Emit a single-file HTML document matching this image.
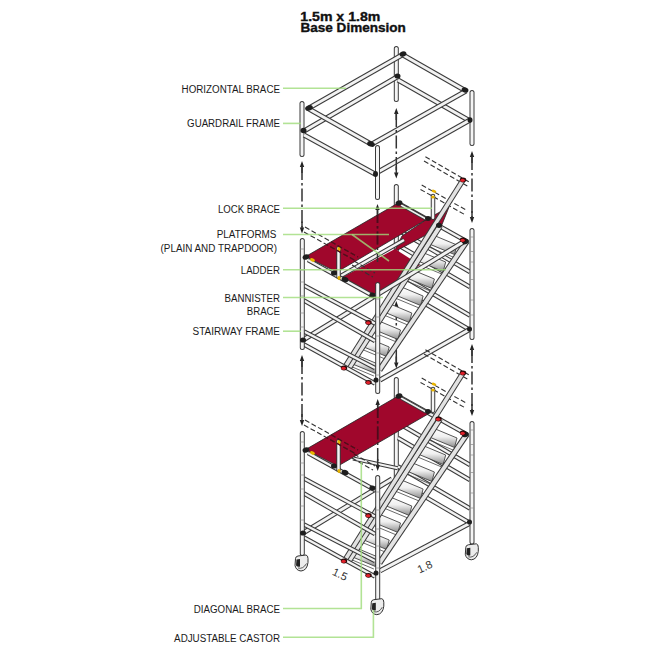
<!DOCTYPE html>
<html><head><meta charset="utf-8"><style>html,body{margin:0;padding:0;background:#fff;}svg{display:block}</style></head>
<body><svg width="650" height="650" viewBox="0 0 650 650">
<defs><clipPath id="pl2"><polygon points="305.5,256.6 399,202.5 428,218.5 337,272"/></clipPath><clipPath id="pl3"><polygon points="305.5,449.6 399,395.5 429,413.5 338,466"/></clipPath><linearGradient id="tread" x1="0" y1="0" x2="0" y2="1"><stop offset="0" stop-color="#ffffff"/><stop offset="0.45" stop-color="#f0f0f0"/><stop offset="1" stop-color="#8c8c8c"/></linearGradient></defs>
<rect width="650" height="650" fill="#fff"/>
<text x="181.6" y="92.6" textLength="98.4" lengthAdjust="spacingAndGlyphs" font-family="Liberation Sans" font-size="10" fill="#1a1a1a">HORIZONTAL BRACE</text>
<text x="187.1" y="126.8" textLength="92.9" lengthAdjust="spacingAndGlyphs" font-family="Liberation Sans" font-size="10" fill="#1a1a1a">GUARDRAIL FRAME</text>
<text x="218.0" y="212.8" textLength="62" lengthAdjust="spacingAndGlyphs" font-family="Liberation Sans" font-size="10" fill="#1a1a1a">LOCK BRACE</text>
<text x="216.7" y="238.4" textLength="59.8" lengthAdjust="spacingAndGlyphs" font-family="Liberation Sans" font-size="10" fill="#1a1a1a">PLATFORMS</text>
<text x="160.6" y="252.2" textLength="116.4" lengthAdjust="spacingAndGlyphs" font-family="Liberation Sans" font-size="10" fill="#1a1a1a">(PLAIN AND TRAPDOOR)</text>
<text x="240.8" y="274.2" textLength="39.2" lengthAdjust="spacingAndGlyphs" font-family="Liberation Sans" font-size="10" fill="#1a1a1a">LADDER</text>
<text x="224.5" y="302.2" textLength="55.5" lengthAdjust="spacingAndGlyphs" font-family="Liberation Sans" font-size="10" fill="#1a1a1a">BANNISTER</text>
<text x="246.8" y="315.2" textLength="33.2" lengthAdjust="spacingAndGlyphs" font-family="Liberation Sans" font-size="10" fill="#1a1a1a">BRACE</text>
<text x="192.6" y="335.2" textLength="87.4" lengthAdjust="spacingAndGlyphs" font-family="Liberation Sans" font-size="10" fill="#1a1a1a">STAIRWAY FRAME</text>
<text x="193.8" y="612.7" textLength="86.2" lengthAdjust="spacingAndGlyphs" font-family="Liberation Sans" font-size="10" fill="#1a1a1a">DIAGONAL BRACE</text>
<text x="174.1" y="641.5" textLength="105.9" lengthAdjust="spacingAndGlyphs" font-family="Liberation Sans" font-size="10" fill="#1a1a1a">ADJUSTABLE CASTOR</text>
<text x="300.3" y="20.5" textLength="80" lengthAdjust="spacingAndGlyphs" font-family="Liberation Sans" font-weight="bold" font-size="12.3" fill="#111" stroke="#111" stroke-width="0.35">1.5m x 1.8m</text>
<text x="300.5" y="32.3" textLength="105.3" lengthAdjust="spacingAndGlyphs" font-family="Liberation Sans" font-weight="bold" font-size="12.3" fill="#111" stroke="#111" stroke-width="0.35">Base Dimension</text>
<rect x="393.80" y="46.0" width="5" height="56.0" rx="2.5" fill="#3a3a3a"/>
<rect x="394.80" y="47.0" width="3" height="54.0" rx="1.5" fill="#f4f4f4"/>
<line x1="304.0" y1="131.0" x2="397.0" y2="77.0" stroke="#3a3a3a" stroke-width="5" stroke-linecap="butt"/>
<line x1="304.0" y1="131.0" x2="397.0" y2="77.0" stroke="#f2f2f2" stroke-width="3" stroke-linecap="butt"/>
<line x1="398.0" y1="80.0" x2="470.0" y2="121.0" stroke="#3a3a3a" stroke-width="5" stroke-linecap="butt"/>
<line x1="398.0" y1="80.0" x2="470.0" y2="121.0" stroke="#f2f2f2" stroke-width="3" stroke-linecap="butt"/>
<line x1="309.0" y1="108.0" x2="402.0" y2="55.0" stroke="#3a3a3a" stroke-width="5" stroke-linecap="butt"/>
<line x1="309.0" y1="108.0" x2="402.0" y2="55.0" stroke="#f2f2f2" stroke-width="3" stroke-linecap="butt"/>
<line x1="403.0" y1="55.0" x2="466.0" y2="91.0" stroke="#3a3a3a" stroke-width="5" stroke-linecap="butt"/>
<line x1="403.0" y1="55.0" x2="466.0" y2="91.0" stroke="#f2f2f2" stroke-width="3" stroke-linecap="butt"/>
<rect x="299.50" y="101.0" width="5" height="56.0" rx="2.5" fill="#3a3a3a"/>
<rect x="300.50" y="102.0" width="3" height="54.0" rx="1.5" fill="#f4f4f4"/>
<rect x="469.50" y="90.0" width="5" height="56.0" rx="2.5" fill="#3a3a3a"/>
<rect x="470.50" y="91.0" width="3" height="54.0" rx="1.5" fill="#f4f4f4"/>
<line x1="304.0" y1="135.0" x2="375.0" y2="174.0" stroke="#3a3a3a" stroke-width="5" stroke-linecap="butt"/>
<line x1="304.0" y1="135.0" x2="375.0" y2="174.0" stroke="#f2f2f2" stroke-width="3" stroke-linecap="butt"/>
<line x1="378.0" y1="172.0" x2="470.0" y2="120.0" stroke="#3a3a3a" stroke-width="5" stroke-linecap="butt"/>
<line x1="378.0" y1="172.0" x2="470.0" y2="120.0" stroke="#f2f2f2" stroke-width="3" stroke-linecap="butt"/>
<line x1="309.0" y1="109.0" x2="371.0" y2="144.0" stroke="#3a3a3a" stroke-width="5" stroke-linecap="butt"/>
<line x1="309.0" y1="109.0" x2="371.0" y2="144.0" stroke="#f2f2f2" stroke-width="3" stroke-linecap="butt"/>
<line x1="372.0" y1="144.0" x2="466.0" y2="91.0" stroke="#3a3a3a" stroke-width="5" stroke-linecap="butt"/>
<line x1="372.0" y1="144.0" x2="466.0" y2="91.0" stroke="#f2f2f2" stroke-width="3" stroke-linecap="butt"/>
<rect x="375.00" y="145.0" width="5" height="55.0" rx="2.5" fill="#3a3a3a"/>
<rect x="376.00" y="146.0" width="3" height="53.0" rx="1.5" fill="#f4f4f4"/>
<ellipse cx="309.0" cy="108.0" rx="4" ry="2.6" transform="rotate(-20 309.0 108.0)" fill="#1e1e1e"/>
<ellipse cx="303.5" cy="130.5" rx="3" ry="2.8" transform="rotate(0 303.5 130.5)" fill="#1e1e1e"/>
<ellipse cx="403.0" cy="54.0" rx="3.5" ry="2.6" transform="rotate(-20 403.0 54.0)" fill="#1e1e1e"/>
<ellipse cx="397.5" cy="76.0" rx="3" ry="2.6" transform="rotate(0 397.5 76.0)" fill="#1e1e1e"/>
<ellipse cx="371.0" cy="144.0" rx="4" ry="2.6" transform="rotate(20 371.0 144.0)" fill="#1e1e1e"/>
<ellipse cx="375.5" cy="174.0" rx="2.5" ry="3" transform="rotate(0 375.5 174.0)" fill="#1e1e1e"/>
<ellipse cx="465.0" cy="90.0" rx="3.5" ry="2.6" transform="rotate(20 465.0 90.0)" fill="#1e1e1e"/>
<ellipse cx="470.0" cy="120.0" rx="2.5" ry="2.8" transform="rotate(0 470.0 120.0)" fill="#1e1e1e"/>
<path d="M396.3 301 L394.1 307 L398.5 307 Z" fill="#222"/>
<path d="M396.3 368.5 L394.1 362.5 L398.5 362.5 Z" fill="#222"/>
<line x1="396.3" y1="307" x2="396.3" y2="362.5" stroke="#333" stroke-width="1.5" stroke-dasharray="13 3 2.5 3"/>
<line x1="396.3" y1="306" x2="396.3" y2="313" stroke="#333" stroke-width="1.5"/>
<line x1="396.3" y1="356.5" x2="396.3" y2="363.5" stroke="#333" stroke-width="1.5"/>
<rect x="393.80" y="184.0" width="5" height="113.0" rx="2.5" fill="#3a3a3a"/>
<rect x="394.80" y="185.0" width="3" height="111.0" rx="1.5" fill="#f4f4f4"/>
<line x1="398.0" y1="230.0" x2="470.0" y2="272.0" stroke="#3a3a3a" stroke-width="4.5" stroke-linecap="butt"/>
<line x1="398.0" y1="230.0" x2="470.0" y2="272.0" stroke="#f2f2f2" stroke-width="2.5" stroke-linecap="butt"/>
<line x1="398.0" y1="245.0" x2="470.0" y2="287.0" stroke="#3a3a3a" stroke-width="4.5" stroke-linecap="butt"/>
<line x1="398.0" y1="245.0" x2="470.0" y2="287.0" stroke="#f2f2f2" stroke-width="2.5" stroke-linecap="butt"/>
<line x1="398.0" y1="273.5" x2="470.0" y2="315.5" stroke="#3a3a3a" stroke-width="4.5" stroke-linecap="butt"/>
<line x1="398.0" y1="273.5" x2="470.0" y2="315.5" stroke="#f2f2f2" stroke-width="2.5" stroke-linecap="butt"/>
<line x1="398.0" y1="288.0" x2="470.0" y2="330.0" stroke="#3a3a3a" stroke-width="4.5" stroke-linecap="butt"/>
<line x1="398.0" y1="288.0" x2="470.0" y2="330.0" stroke="#f2f2f2" stroke-width="2.5" stroke-linecap="butt"/>
<line x1="398.0" y1="203.0" x2="466.0" y2="241.0" stroke="#3a3a3a" stroke-width="4.5" stroke-linecap="butt"/>
<line x1="398.0" y1="203.0" x2="466.0" y2="241.0" stroke="#f2f2f2" stroke-width="2.5" stroke-linecap="butt"/>
<line x1="380.0" y1="380.0" x2="469.5" y2="329.5" stroke="#3a3a3a" stroke-width="5" stroke-linecap="butt"/>
<line x1="380.0" y1="380.0" x2="469.5" y2="329.5" stroke="#f2f2f2" stroke-width="3" stroke-linecap="butt"/>
<rect x="469.50" y="228.0" width="5" height="112.0" rx="2.5" fill="#3a3a3a"/>
<rect x="470.50" y="229.0" width="3" height="110.0" rx="1.5" fill="#f4f4f4"/>
<line x1="470.0" y1="237.0" x2="474.0" y2="237.0" stroke="#8a8a8a" stroke-width="0.7"/>
<line x1="470.0" y1="251.5" x2="474.0" y2="251.5" stroke="#8a8a8a" stroke-width="0.7"/>
<line x1="470.0" y1="262.0" x2="474.0" y2="262.0" stroke="#8a8a8a" stroke-width="0.7"/>
<line x1="470.0" y1="279.5" x2="474.0" y2="279.5" stroke="#8a8a8a" stroke-width="0.7"/>
<line x1="470.0" y1="300.0" x2="474.0" y2="300.0" stroke="#8a8a8a" stroke-width="0.7"/>
<line x1="470.0" y1="315.0" x2="474.0" y2="315.0" stroke="#8a8a8a" stroke-width="0.7"/>
<polygon points="305.5,256.6 399.0,202.5 428.0,218.5 337.0,272.0" fill="#a0072c" stroke="#222" stroke-width="0.8"/>
<polygon points="402.0,236.0 428.0,218.5 449.0,207.0 441.0,227.0 394.0,252.0" fill="#a0072c" stroke="#222" stroke-width="0.8"/>
<polygon points="339.0,279.0 395.0,249.0 420.0,265.0 375.0,295.0" fill="#a0072c" stroke="none" stroke-width="0"/>
<line x1="339.0" y1="277.0" x2="404.0" y2="240.0" stroke="#3a3a3a" stroke-width="4.5" stroke-linecap="butt"/>
<line x1="339.0" y1="277.0" x2="404.0" y2="240.0" stroke="#f2f2f2" stroke-width="2.5" stroke-linecap="butt"/>
<line x1="401.0" y1="205.0" x2="426.0" y2="219.0" stroke="#3a3a3a" stroke-width="3.5" stroke-linecap="butt"/>
<line x1="401.0" y1="205.0" x2="426.0" y2="219.0" stroke="#f2f2f2" stroke-width="1.5" stroke-linecap="butt"/>
<line x1="425.4" y1="156.8" x2="470.3" y2="182.6" stroke="#333" stroke-width="1.1" stroke-dasharray="5 2.5"/>
<line x1="424.0" y1="161.0" x2="467.8" y2="186.3" stroke="#333" stroke-width="1.1" stroke-dasharray="5 2.5"/>
<line x1="421.7" y1="185.0" x2="466.6" y2="210.3" stroke="#333" stroke-width="1.1" stroke-dasharray="5 2.5"/>
<line x1="420.5" y1="189.4" x2="464.8" y2="214.6" stroke="#333" stroke-width="1.1" stroke-dasharray="5 2.5"/>
<polygon points="433.0,235.0 457.0,245.0 454.5,254.5 430.5,244.5" fill="url(#tread)" stroke="#444" stroke-width="0.9"/>
<line x1="429.0" y1="247.0" x2="453.0" y2="257.0" stroke="#444" stroke-width="0.8"/>
<polygon points="421.7,252.0 445.7,262.0 443.2,271.5 419.2,261.5" fill="url(#tread)" stroke="#444" stroke-width="0.9"/>
<line x1="417.7" y1="264.0" x2="441.7" y2="274.0" stroke="#444" stroke-width="0.8"/>
<polygon points="410.4,269.0 434.4,279.0 431.9,288.5 407.9,278.5" fill="url(#tread)" stroke="#444" stroke-width="0.9"/>
<line x1="406.4" y1="281.0" x2="430.4" y2="291.0" stroke="#444" stroke-width="0.8"/>
<polygon points="399.1,286.0 423.1,296.0 420.6,305.5 396.6,295.5" fill="url(#tread)" stroke="#444" stroke-width="0.9"/>
<line x1="395.1" y1="298.0" x2="419.1" y2="308.0" stroke="#444" stroke-width="0.8"/>
<polygon points="387.8,303.0 411.8,313.0 409.3,322.5 385.3,312.5" fill="url(#tread)" stroke="#444" stroke-width="0.9"/>
<line x1="383.8" y1="315.0" x2="407.8" y2="325.0" stroke="#444" stroke-width="0.8"/>
<polygon points="376.5,320.0 400.5,330.0 398.0,339.5 374.0,329.5" fill="url(#tread)" stroke="#444" stroke-width="0.9"/>
<line x1="372.5" y1="332.0" x2="396.5" y2="342.0" stroke="#444" stroke-width="0.8"/>
<polygon points="365.2,337.0 389.2,347.0 386.7,356.5 362.7,346.5" fill="url(#tread)" stroke="#444" stroke-width="0.9"/>
<line x1="361.2" y1="349.0" x2="385.2" y2="359.0" stroke="#444" stroke-width="0.8"/>
<polygon points="353.9,354.0 377.9,364.0 375.4,373.5 351.4,363.5" fill="url(#tread)" stroke="#444" stroke-width="0.9"/>
<line x1="349.9" y1="366.0" x2="373.9" y2="376.0" stroke="#444" stroke-width="0.8"/>
<line x1="467.0" y1="241.0" x2="379.5" y2="370.0" stroke="#3a3a3a" stroke-width="6" stroke-linecap="butt"/>
<line x1="467.0" y1="241.0" x2="379.5" y2="370.0" stroke="#e4e4e4" stroke-width="4" stroke-linecap="butt"/>
<line x1="440.0" y1="226.0" x2="349.0" y2="368.0" stroke="#3a3a3a" stroke-width="6" stroke-linecap="butt"/>
<line x1="440.0" y1="226.0" x2="349.0" y2="368.0" stroke="#e4e4e4" stroke-width="4" stroke-linecap="butt"/>
<line x1="463.0" y1="180.0" x2="345.0" y2="367.0" stroke="#3a3a3a" stroke-width="5.5" stroke-linecap="butt"/>
<line x1="463.0" y1="180.0" x2="345.0" y2="367.0" stroke="#e2e2e2" stroke-width="3.5" stroke-linecap="butt"/>
<line x1="303.0" y1="340.0" x2="465.0" y2="241.0" stroke="#3a3a3a" stroke-width="5" stroke-linecap="butt"/>
<line x1="303.0" y1="340.0" x2="465.0" y2="241.0" stroke="#f2f2f2" stroke-width="3" stroke-linecap="butt"/>
<line x1="304.0" y1="285.5" x2="375.0" y2="323.5" stroke="#3a3a3a" stroke-width="4.5" stroke-linecap="butt"/>
<line x1="304.0" y1="285.5" x2="375.0" y2="323.5" stroke="#f2f2f2" stroke-width="2.5" stroke-linecap="butt"/>
<line x1="304.0" y1="300.5" x2="375.0" y2="341.0" stroke="#3a3a3a" stroke-width="4.5" stroke-linecap="butt"/>
<line x1="304.0" y1="300.5" x2="375.0" y2="341.0" stroke="#f2f2f2" stroke-width="2.5" stroke-linecap="butt"/>
<line x1="304.0" y1="331.5" x2="375.0" y2="368.0" stroke="#3a3a3a" stroke-width="4.5" stroke-linecap="butt"/>
<line x1="304.0" y1="331.5" x2="375.0" y2="368.0" stroke="#f2f2f2" stroke-width="2.5" stroke-linecap="butt"/>
<line x1="304.0" y1="344.5" x2="375.0" y2="383.5" stroke="#3a3a3a" stroke-width="4.5" stroke-linecap="butt"/>
<line x1="304.0" y1="344.5" x2="375.0" y2="383.5" stroke="#f2f2f2" stroke-width="2.5" stroke-linecap="butt"/>
<line x1="308.0" y1="260.0" x2="375.0" y2="297.0" stroke="#3a3a3a" stroke-width="4.5" stroke-linecap="butt"/>
<line x1="308.0" y1="260.0" x2="375.0" y2="297.0" stroke="#f2f2f2" stroke-width="2.5" stroke-linecap="butt"/>
<rect x="299.80" y="238.0" width="5" height="112.0" rx="2.5" fill="#3a3a3a"/>
<rect x="300.80" y="239.0" width="3" height="110.0" rx="1.5" fill="#f4f4f4"/>
<rect x="375.20" y="282.0" width="5" height="112.0" rx="2.5" fill="#3a3a3a"/>
<rect x="376.20" y="283.0" width="3" height="110.0" rx="1.5" fill="#f4f4f4"/>
<line x1="300.3" y1="249.0" x2="304.3" y2="249.0" stroke="#8a8a8a" stroke-width="0.7"/>
<line x1="300.3" y1="270.0" x2="304.3" y2="270.0" stroke="#8a8a8a" stroke-width="0.7"/>
<line x1="300.3" y1="282.0" x2="304.3" y2="282.0" stroke="#8a8a8a" stroke-width="0.7"/>
<line x1="300.3" y1="296.0" x2="304.3" y2="296.0" stroke="#8a8a8a" stroke-width="0.7"/>
<line x1="300.3" y1="313.0" x2="304.3" y2="313.0" stroke="#8a8a8a" stroke-width="0.7"/>
<line x1="300.3" y1="327.0" x2="304.3" y2="327.0" stroke="#8a8a8a" stroke-width="0.7"/>
<line x1="375.7" y1="299.0" x2="379.7" y2="299.0" stroke="#8a8a8a" stroke-width="0.7"/>
<line x1="375.7" y1="317.0" x2="379.7" y2="317.0" stroke="#8a8a8a" stroke-width="0.7"/>
<line x1="375.7" y1="336.0" x2="379.7" y2="336.0" stroke="#8a8a8a" stroke-width="0.7"/>
<line x1="375.7" y1="353.0" x2="379.7" y2="353.0" stroke="#8a8a8a" stroke-width="0.7"/>
<line x1="375.7" y1="375.0" x2="379.7" y2="375.0" stroke="#8a8a8a" stroke-width="0.7"/>
<rect x="336.25" y="246.0" width="4.5" height="33.0" rx="2.25" fill="#3a3a3a"/>
<rect x="337.25" y="247.0" width="2.5" height="31.0" rx="1.25" fill="#f4f4f4"/>
<ellipse cx="339.0" cy="249.0" rx="1.6" ry="2.2" transform="rotate(0 339.0 249.0)" fill="#e8b400"/>
<ellipse cx="339.0" cy="278.0" rx="1.6" ry="2" transform="rotate(0 339.0 278.0)" fill="#e8b400"/>
<rect x="430.75" y="193.7" width="4.5" height="26.3" rx="2.25" fill="#3a3a3a"/>
<rect x="431.75" y="194.7" width="2.5" height="24.3" rx="1.25" fill="#f4f4f4"/>
<ellipse cx="433.0" cy="197.0" rx="1.8" ry="1.6" transform="rotate(0 433.0 197.0)" fill="#e8b400"/>
<ellipse cx="434.0" cy="191.2" rx="2.4" ry="1.4" transform="rotate(20 434.0 191.2)" fill="#e8b400"/>
<ellipse cx="306.0" cy="257.0" rx="3.5" ry="2.6" transform="rotate(-20 306.0 257.0)" fill="#1e1e1e"/>
<ellipse cx="312.5" cy="260.0" rx="2.6" ry="1.6" transform="rotate(25 312.5 260.0)" fill="#e8b400"/>
<ellipse cx="399.0" cy="203.0" rx="3.5" ry="2.6" transform="rotate(-20 399.0 203.0)" fill="#1e1e1e"/>
<ellipse cx="428.0" cy="218.5" rx="3" ry="2.5" transform="rotate(0 428.0 218.5)" fill="#1e1e1e"/>
<ellipse cx="334.0" cy="273.0" rx="3" ry="2.6" transform="rotate(0 334.0 273.0)" fill="#1e1e1e"/>
<ellipse cx="345.0" cy="279.5" rx="3.5" ry="2.6" transform="rotate(20 345.0 279.5)" fill="#1e1e1e"/>
<ellipse cx="372.3" cy="295.0" rx="3" ry="2.6" transform="rotate(0 372.3 295.0)" fill="#1e1e1e"/>
<ellipse cx="303.0" cy="340.0" rx="3" ry="2.6" transform="rotate(0 303.0 340.0)" fill="#1e1e1e"/>
<ellipse cx="465.5" cy="241.5" rx="3.5" ry="2.6" transform="rotate(-20 465.5 241.5)" fill="#1e1e1e"/>
<ellipse cx="469.5" cy="329.0" rx="2.5" ry="2.6" transform="rotate(0 469.5 329.0)" fill="#1e1e1e"/>
<ellipse cx="376.0" cy="380.0" rx="2.5" ry="2.6" transform="rotate(0 376.0 380.0)" fill="#1e1e1e"/>
<ellipse cx="463.0" cy="180.0" rx="3.2" ry="2.4" fill="#2a0a0a"/>
<ellipse cx="462.6" cy="180.3" rx="2.2" ry="1.6" fill="#e0202a"/>
<ellipse cx="368.5" cy="322.5" rx="3.2" ry="2.4" fill="#2a0a0a"/>
<ellipse cx="368.1" cy="322.8" rx="2.2" ry="1.6" fill="#e0202a"/>
<ellipse cx="368.5" cy="382.3" rx="3.2" ry="2.4" fill="#2a0a0a"/>
<ellipse cx="368.1" cy="382.6" rx="2.2" ry="1.6" fill="#e0202a"/>
<ellipse cx="344.0" cy="368.0" rx="3.2" ry="2.4" fill="#2a0a0a"/>
<ellipse cx="343.6" cy="368.3" rx="2.2" ry="1.6" fill="#e0202a"/>
<ellipse cx="439.0" cy="225.3" rx="3" ry="2.6" transform="rotate(0 439.0 225.3)" fill="#1e1e1e"/>
<ellipse cx="463.0" cy="240.0" rx="3.2" ry="2.4" fill="#2a0a0a"/>
<ellipse cx="462.6" cy="240.3" rx="2.2" ry="1.6" fill="#e0202a"/>
<line x1="305.0" y1="227.0" x2="358.0" y2="257.0" stroke="#333" stroke-width="1.1" stroke-dasharray="5 2.5"/>
<line x1="305.0" y1="227.0" x2="358.0" y2="257.0" stroke="#5a0818" stroke-width="1.2" stroke-dasharray="5 2.5" clip-path="url(#pl2)"/>
<line x1="304.0" y1="232.0" x2="356.0" y2="261.0" stroke="#333" stroke-width="1.1" stroke-dasharray="5 2.5"/>
<line x1="304.0" y1="232.0" x2="356.0" y2="261.0" stroke="#5a0818" stroke-width="1.2" stroke-dasharray="5 2.5" clip-path="url(#pl2)"/>
<line x1="354.0" y1="261.0" x2="375.0" y2="273.0" stroke="#333" stroke-width="1.1" stroke-dasharray="5 2.5"/>
<line x1="354.0" y1="261.0" x2="375.0" y2="273.0" stroke="#5a0818" stroke-width="1.2" stroke-dasharray="5 2.5" clip-path="url(#pl2)"/>
<line x1="352.0" y1="265.0" x2="373.0" y2="277.0" stroke="#333" stroke-width="1.1" stroke-dasharray="5 2.5"/>
<line x1="352.0" y1="265.0" x2="373.0" y2="277.0" stroke="#5a0818" stroke-width="1.2" stroke-dasharray="5 2.5" clip-path="url(#pl2)"/>
<rect x="393.80" y="377.0" width="5" height="113.0" rx="2.5" fill="#3a3a3a"/>
<rect x="394.80" y="378.0" width="3" height="111.0" rx="1.5" fill="#f4f4f4"/>
<line x1="398.0" y1="423.0" x2="470.0" y2="465.0" stroke="#3a3a3a" stroke-width="4.5" stroke-linecap="butt"/>
<line x1="398.0" y1="423.0" x2="470.0" y2="465.0" stroke="#f2f2f2" stroke-width="2.5" stroke-linecap="butt"/>
<line x1="398.0" y1="438.0" x2="470.0" y2="480.0" stroke="#3a3a3a" stroke-width="4.5" stroke-linecap="butt"/>
<line x1="398.0" y1="438.0" x2="470.0" y2="480.0" stroke="#f2f2f2" stroke-width="2.5" stroke-linecap="butt"/>
<line x1="398.0" y1="466.5" x2="470.0" y2="508.5" stroke="#3a3a3a" stroke-width="4.5" stroke-linecap="butt"/>
<line x1="398.0" y1="466.5" x2="470.0" y2="508.5" stroke="#f2f2f2" stroke-width="2.5" stroke-linecap="butt"/>
<line x1="398.0" y1="481.0" x2="470.0" y2="523.0" stroke="#3a3a3a" stroke-width="4.5" stroke-linecap="butt"/>
<line x1="398.0" y1="481.0" x2="470.0" y2="523.0" stroke="#f2f2f2" stroke-width="2.5" stroke-linecap="butt"/>
<line x1="398.0" y1="396.0" x2="466.0" y2="434.0" stroke="#3a3a3a" stroke-width="4.5" stroke-linecap="butt"/>
<line x1="398.0" y1="396.0" x2="466.0" y2="434.0" stroke="#f2f2f2" stroke-width="2.5" stroke-linecap="butt"/>
<line x1="380.0" y1="570.8" x2="469.5" y2="523.5" stroke="#3a3a3a" stroke-width="5" stroke-linecap="butt"/>
<line x1="380.0" y1="570.8" x2="469.5" y2="523.5" stroke="#f2f2f2" stroke-width="3" stroke-linecap="butt"/>
<rect x="469.50" y="421.0" width="5" height="123.5" rx="2.5" fill="#3a3a3a"/>
<rect x="470.50" y="422.0" width="3" height="121.5" rx="1.5" fill="#f4f4f4"/>
<line x1="470.0" y1="430.0" x2="474.0" y2="430.0" stroke="#8a8a8a" stroke-width="0.7"/>
<line x1="470.0" y1="444.5" x2="474.0" y2="444.5" stroke="#8a8a8a" stroke-width="0.7"/>
<line x1="470.0" y1="455.0" x2="474.0" y2="455.0" stroke="#8a8a8a" stroke-width="0.7"/>
<line x1="470.0" y1="472.5" x2="474.0" y2="472.5" stroke="#8a8a8a" stroke-width="0.7"/>
<line x1="470.0" y1="493.0" x2="474.0" y2="493.0" stroke="#8a8a8a" stroke-width="0.7"/>
<line x1="470.0" y1="508.0" x2="474.0" y2="508.0" stroke="#8a8a8a" stroke-width="0.7"/>
<polygon points="305.5,449.6 399.0,395.5 429.0,413.5 338.0,466.0" fill="#a0072c" stroke="#222" stroke-width="0.8"/>
<line x1="353.0" y1="458.5" x2="397.7" y2="468.3" stroke="#3a3a3a" stroke-width="4" stroke-linecap="butt"/>
<line x1="353.0" y1="458.5" x2="397.7" y2="468.3" stroke="#f2f2f2" stroke-width="2" stroke-linecap="butt"/>
<line x1="401.0" y1="398.0" x2="426.0" y2="412.0" stroke="#3a3a3a" stroke-width="3.5" stroke-linecap="butt"/>
<line x1="401.0" y1="398.0" x2="426.0" y2="412.0" stroke="#f2f2f2" stroke-width="1.5" stroke-linecap="butt"/>
<line x1="303.0" y1="533.0" x2="392.0" y2="479.0" stroke="#3a3a3a" stroke-width="5" stroke-linecap="butt"/>
<line x1="303.0" y1="533.0" x2="392.0" y2="479.0" stroke="#f2f2f2" stroke-width="3" stroke-linecap="butt"/>
<line x1="425.4" y1="349.8" x2="470.3" y2="375.6" stroke="#333" stroke-width="1.1" stroke-dasharray="5 2.5"/>
<line x1="424.0" y1="354.0" x2="467.8" y2="379.3" stroke="#333" stroke-width="1.1" stroke-dasharray="5 2.5"/>
<line x1="421.7" y1="378.0" x2="466.6" y2="403.3" stroke="#333" stroke-width="1.1" stroke-dasharray="5 2.5"/>
<line x1="420.5" y1="382.4" x2="464.8" y2="407.6" stroke="#333" stroke-width="1.1" stroke-dasharray="5 2.5"/>
<polygon points="433.0,428.0 457.0,438.0 454.5,447.5 430.5,437.5" fill="url(#tread)" stroke="#444" stroke-width="0.9"/>
<line x1="429.0" y1="440.0" x2="453.0" y2="450.0" stroke="#444" stroke-width="0.8"/>
<polygon points="421.7,445.0 445.7,455.0 443.2,464.5 419.2,454.5" fill="url(#tread)" stroke="#444" stroke-width="0.9"/>
<line x1="417.7" y1="457.0" x2="441.7" y2="467.0" stroke="#444" stroke-width="0.8"/>
<polygon points="410.4,462.0 434.4,472.0 431.9,481.5 407.9,471.5" fill="url(#tread)" stroke="#444" stroke-width="0.9"/>
<line x1="406.4" y1="474.0" x2="430.4" y2="484.0" stroke="#444" stroke-width="0.8"/>
<polygon points="399.1,479.0 423.1,489.0 420.6,498.5 396.6,488.5" fill="url(#tread)" stroke="#444" stroke-width="0.9"/>
<line x1="395.1" y1="491.0" x2="419.1" y2="501.0" stroke="#444" stroke-width="0.8"/>
<polygon points="387.8,496.0 411.8,506.0 409.3,515.5 385.3,505.5" fill="url(#tread)" stroke="#444" stroke-width="0.9"/>
<line x1="383.8" y1="508.0" x2="407.8" y2="518.0" stroke="#444" stroke-width="0.8"/>
<polygon points="376.5,513.0 400.5,523.0 398.0,532.5 374.0,522.5" fill="url(#tread)" stroke="#444" stroke-width="0.9"/>
<line x1="372.5" y1="525.0" x2="396.5" y2="535.0" stroke="#444" stroke-width="0.8"/>
<polygon points="365.2,530.0 389.2,540.0 386.7,549.5 362.7,539.5" fill="url(#tread)" stroke="#444" stroke-width="0.9"/>
<line x1="361.2" y1="542.0" x2="385.2" y2="552.0" stroke="#444" stroke-width="0.8"/>
<polygon points="353.9,547.0 377.9,557.0 375.4,566.5 351.4,556.5" fill="url(#tread)" stroke="#444" stroke-width="0.9"/>
<line x1="349.9" y1="559.0" x2="373.9" y2="569.0" stroke="#444" stroke-width="0.8"/>
<line x1="467.0" y1="434.0" x2="379.5" y2="563.0" stroke="#3a3a3a" stroke-width="6" stroke-linecap="butt"/>
<line x1="467.0" y1="434.0" x2="379.5" y2="563.0" stroke="#e4e4e4" stroke-width="4" stroke-linecap="butt"/>
<line x1="440.0" y1="419.0" x2="349.0" y2="561.0" stroke="#3a3a3a" stroke-width="6" stroke-linecap="butt"/>
<line x1="440.0" y1="419.0" x2="349.0" y2="561.0" stroke="#e4e4e4" stroke-width="4" stroke-linecap="butt"/>
<line x1="463.0" y1="373.0" x2="345.0" y2="560.0" stroke="#3a3a3a" stroke-width="5.5" stroke-linecap="butt"/>
<line x1="463.0" y1="373.0" x2="345.0" y2="560.0" stroke="#e2e2e2" stroke-width="3.5" stroke-linecap="butt"/>
<line x1="304.0" y1="478.5" x2="375.0" y2="516.5" stroke="#3a3a3a" stroke-width="4.5" stroke-linecap="butt"/>
<line x1="304.0" y1="478.5" x2="375.0" y2="516.5" stroke="#f2f2f2" stroke-width="2.5" stroke-linecap="butt"/>
<line x1="304.0" y1="493.5" x2="375.0" y2="534.0" stroke="#3a3a3a" stroke-width="4.5" stroke-linecap="butt"/>
<line x1="304.0" y1="493.5" x2="375.0" y2="534.0" stroke="#f2f2f2" stroke-width="2.5" stroke-linecap="butt"/>
<line x1="304.0" y1="524.5" x2="375.0" y2="561.0" stroke="#3a3a3a" stroke-width="4.5" stroke-linecap="butt"/>
<line x1="304.0" y1="524.5" x2="375.0" y2="561.0" stroke="#f2f2f2" stroke-width="2.5" stroke-linecap="butt"/>
<line x1="304.0" y1="537.5" x2="375.0" y2="576.5" stroke="#3a3a3a" stroke-width="4.5" stroke-linecap="butt"/>
<line x1="304.0" y1="537.5" x2="375.0" y2="576.5" stroke="#f2f2f2" stroke-width="2.5" stroke-linecap="butt"/>
<line x1="308.0" y1="453.0" x2="375.0" y2="490.0" stroke="#3a3a3a" stroke-width="4.5" stroke-linecap="butt"/>
<line x1="308.0" y1="453.0" x2="375.0" y2="490.0" stroke="#f2f2f2" stroke-width="2.5" stroke-linecap="butt"/>
<rect x="299.80" y="431.0" width="5" height="125.0" rx="2.5" fill="#3a3a3a"/>
<rect x="300.80" y="432.0" width="3" height="123.0" rx="1.5" fill="#f4f4f4"/>
<rect x="375.20" y="475.0" width="5" height="126.4" rx="2.5" fill="#3a3a3a"/>
<rect x="376.20" y="476.0" width="3" height="124.4" rx="1.5" fill="#f4f4f4"/>
<line x1="300.3" y1="442.0" x2="304.3" y2="442.0" stroke="#8a8a8a" stroke-width="0.7"/>
<line x1="300.3" y1="463.0" x2="304.3" y2="463.0" stroke="#8a8a8a" stroke-width="0.7"/>
<line x1="300.3" y1="475.0" x2="304.3" y2="475.0" stroke="#8a8a8a" stroke-width="0.7"/>
<line x1="300.3" y1="489.0" x2="304.3" y2="489.0" stroke="#8a8a8a" stroke-width="0.7"/>
<line x1="300.3" y1="506.0" x2="304.3" y2="506.0" stroke="#8a8a8a" stroke-width="0.7"/>
<line x1="300.3" y1="520.0" x2="304.3" y2="520.0" stroke="#8a8a8a" stroke-width="0.7"/>
<line x1="375.7" y1="492.0" x2="379.7" y2="492.0" stroke="#8a8a8a" stroke-width="0.7"/>
<line x1="375.7" y1="510.0" x2="379.7" y2="510.0" stroke="#8a8a8a" stroke-width="0.7"/>
<line x1="375.7" y1="529.0" x2="379.7" y2="529.0" stroke="#8a8a8a" stroke-width="0.7"/>
<line x1="375.7" y1="546.0" x2="379.7" y2="546.0" stroke="#8a8a8a" stroke-width="0.7"/>
<line x1="375.7" y1="568.0" x2="379.7" y2="568.0" stroke="#8a8a8a" stroke-width="0.7"/>
<rect x="336.25" y="439.0" width="4.5" height="33.0" rx="2.25" fill="#3a3a3a"/>
<rect x="337.25" y="440.0" width="2.5" height="31.0" rx="1.25" fill="#f4f4f4"/>
<ellipse cx="339.0" cy="442.0" rx="1.6" ry="2.2" transform="rotate(0 339.0 442.0)" fill="#e8b400"/>
<ellipse cx="339.0" cy="471.0" rx="1.6" ry="2" transform="rotate(0 339.0 471.0)" fill="#e8b400"/>
<rect x="430.75" y="386.7" width="4.5" height="26.3" rx="2.25" fill="#3a3a3a"/>
<rect x="431.75" y="387.7" width="2.5" height="24.3" rx="1.25" fill="#f4f4f4"/>
<ellipse cx="433.0" cy="390.0" rx="1.8" ry="1.6" transform="rotate(0 433.0 390.0)" fill="#e8b400"/>
<ellipse cx="434.0" cy="384.2" rx="2.4" ry="1.4" transform="rotate(20 434.0 384.2)" fill="#e8b400"/>
<ellipse cx="306.0" cy="450.0" rx="3.5" ry="2.6" transform="rotate(-20 306.0 450.0)" fill="#1e1e1e"/>
<ellipse cx="312.5" cy="453.0" rx="2.6" ry="1.6" transform="rotate(25 312.5 453.0)" fill="#e8b400"/>
<ellipse cx="399.0" cy="396.0" rx="3.5" ry="2.6" transform="rotate(-20 399.0 396.0)" fill="#1e1e1e"/>
<ellipse cx="428.0" cy="411.5" rx="3" ry="2.5" transform="rotate(0 428.0 411.5)" fill="#1e1e1e"/>
<ellipse cx="334.0" cy="466.0" rx="3" ry="2.6" transform="rotate(0 334.0 466.0)" fill="#1e1e1e"/>
<ellipse cx="345.0" cy="472.5" rx="3.5" ry="2.6" transform="rotate(20 345.0 472.5)" fill="#1e1e1e"/>
<ellipse cx="372.3" cy="488.0" rx="3" ry="2.6" transform="rotate(0 372.3 488.0)" fill="#1e1e1e"/>
<ellipse cx="303.0" cy="533.0" rx="3" ry="2.6" transform="rotate(0 303.0 533.0)" fill="#1e1e1e"/>
<ellipse cx="465.5" cy="434.5" rx="3.5" ry="2.6" transform="rotate(-20 465.5 434.5)" fill="#1e1e1e"/>
<ellipse cx="469.5" cy="522.0" rx="2.5" ry="2.6" transform="rotate(0 469.5 522.0)" fill="#1e1e1e"/>
<ellipse cx="376.0" cy="573.0" rx="2.5" ry="2.6" transform="rotate(0 376.0 573.0)" fill="#1e1e1e"/>
<ellipse cx="463.0" cy="373.0" rx="3.2" ry="2.4" fill="#2a0a0a"/>
<ellipse cx="462.6" cy="373.3" rx="2.2" ry="1.6" fill="#e0202a"/>
<ellipse cx="368.5" cy="515.5" rx="3.2" ry="2.4" fill="#2a0a0a"/>
<ellipse cx="368.1" cy="515.8" rx="2.2" ry="1.6" fill="#e0202a"/>
<ellipse cx="368.5" cy="575.3" rx="3.2" ry="2.4" fill="#2a0a0a"/>
<ellipse cx="368.1" cy="575.6" rx="2.2" ry="1.6" fill="#e0202a"/>
<ellipse cx="344.0" cy="561.0" rx="3.2" ry="2.4" fill="#2a0a0a"/>
<ellipse cx="343.6" cy="561.3" rx="2.2" ry="1.6" fill="#e0202a"/>
<ellipse cx="438.5" cy="419.0" rx="3.2" ry="2.4" fill="#2a0a0a"/>
<ellipse cx="438.1" cy="419.3" rx="2.2" ry="1.6" fill="#e0202a"/>
<ellipse cx="463.0" cy="433.0" rx="3.2" ry="2.4" fill="#2a0a0a"/>
<ellipse cx="462.6" cy="433.3" rx="2.2" ry="1.6" fill="#e0202a"/>
<line x1="305.0" y1="420.0" x2="358.0" y2="450.0" stroke="#333" stroke-width="1.1" stroke-dasharray="5 2.5"/>
<line x1="305.0" y1="420.0" x2="358.0" y2="450.0" stroke="#5a0818" stroke-width="1.2" stroke-dasharray="5 2.5" clip-path="url(#pl3)"/>
<line x1="304.0" y1="425.0" x2="356.0" y2="454.0" stroke="#333" stroke-width="1.1" stroke-dasharray="5 2.5"/>
<line x1="304.0" y1="425.0" x2="356.0" y2="454.0" stroke="#5a0818" stroke-width="1.2" stroke-dasharray="5 2.5" clip-path="url(#pl3)"/>
<line x1="354.0" y1="454.0" x2="375.0" y2="466.0" stroke="#333" stroke-width="1.1" stroke-dasharray="5 2.5"/>
<line x1="354.0" y1="454.0" x2="375.0" y2="466.0" stroke="#5a0818" stroke-width="1.2" stroke-dasharray="5 2.5" clip-path="url(#pl3)"/>
<line x1="352.0" y1="458.0" x2="373.0" y2="470.0" stroke="#333" stroke-width="1.1" stroke-dasharray="5 2.5"/>
<line x1="352.0" y1="458.0" x2="373.0" y2="470.0" stroke="#5a0818" stroke-width="1.2" stroke-dasharray="5 2.5" clip-path="url(#pl3)"/>
<path d="M295.5 558.5 Q295.5 556.5 298 556.0 L306 555.0 Q308 555.5 308 558.5 L308 562.5 Q307 570.5 301 571.0 Q296 570.5 295 565.5 Z" fill="#ececec" stroke="#333" stroke-width="1"/>
<path d="M296.5 559.5 L300 559.0 L300 566.5 Q298 567.5 296 565.5 Z" fill="#222"/>
<path d="M298 568.0 Q303 569.5 306.5 563.5" fill="none" stroke="#333" stroke-width="0.8"/>
<path d="M465.8 547.3 Q465.8 545.3 468.3 544.8 L476.3 543.8 Q478.3 544.3 478.3 547.3 L478.3 551.3 Q477.3 559.3 471.3 559.8 Q466.3 559.3 465.3 554.3 Z" fill="#ececec" stroke="#333" stroke-width="1"/>
<path d="M466.8 548.3 L470.3 547.8 L470.3 555.3 Q468.3 556.3 466.3 554.3 Z" fill="#222"/>
<path d="M468.3 556.8 Q473.3 558.3 476.8 552.3" fill="none" stroke="#333" stroke-width="0.8"/>
<path d="M371.3 602.2 Q371.3 600.2 373.8 599.7 L381.8 598.7 Q383.8 599.2 383.8 602.2 L383.8 606.2 Q382.8 614.2 376.8 614.7 Q371.8 614.2 370.8 609.2 Z" fill="#ececec" stroke="#333" stroke-width="1"/>
<path d="M372.3 603.2 L375.8 602.7 L375.8 610.2 Q373.8 611.2 371.8 609.2 Z" fill="#222"/>
<path d="M373.8 611.7 Q378.8 613.2 382.3 607.2" fill="none" stroke="#333" stroke-width="0.8"/>
<path d="M302 161 L299.8 167 L304.2 167 Z" fill="#222"/>
<path d="M302 233.5 L299.8 227.5 L304.2 227.5 Z" fill="#222"/>
<line x1="302" y1="167" x2="302" y2="227.5" stroke="#333" stroke-width="1.5" stroke-dasharray="13 3 2.5 3"/>
<line x1="302" y1="166" x2="302" y2="173" stroke="#333" stroke-width="1.5"/>
<line x1="302" y1="221.5" x2="302" y2="228.5" stroke="#333" stroke-width="1.5"/>
<path d="M377.5 204 L375.3 210 L379.7 210 Z" fill="#222"/>
<line x1="377.5" y1="210" x2="377.5" y2="262" stroke="#333" stroke-width="1.5" stroke-dasharray="13 3 2.5 3"/>
<line x1="377.5" y1="209" x2="377.5" y2="216" stroke="#333" stroke-width="1.5"/>
<line x1="377.5" y1="210" x2="377.5" y2="262" stroke="#50081a" stroke-width="1.6" stroke-dasharray="13 3 2.5 3" clip-path="url(#pl2)"/>
<path d="M396.3 108 L394.1 114 L398.5 114 Z" fill="#222"/>
<path d="M396.3 178.5 L394.1 172.5 L398.5 172.5 Z" fill="#222"/>
<line x1="396.3" y1="114" x2="396.3" y2="172.5" stroke="#333" stroke-width="1.5" stroke-dasharray="13 3 2.5 3"/>
<line x1="396.3" y1="113" x2="396.3" y2="120" stroke="#333" stroke-width="1.5"/>
<line x1="396.3" y1="166.5" x2="396.3" y2="173.5" stroke="#333" stroke-width="1.5"/>
<path d="M472 151 L469.8 157 L474.2 157 Z" fill="#222"/>
<path d="M472 223 L469.8 217 L474.2 217 Z" fill="#222"/>
<line x1="472" y1="157" x2="472" y2="217" stroke="#333" stroke-width="1.5" stroke-dasharray="13 3 2.5 3"/>
<line x1="472" y1="156" x2="472" y2="163" stroke="#333" stroke-width="1.5"/>
<line x1="472" y1="211" x2="472" y2="218" stroke="#333" stroke-width="1.5"/>
<path d="M302 355 L299.8 361 L304.2 361 Z" fill="#222"/>
<path d="M302 426 L299.8 420 L304.2 420 Z" fill="#222"/>
<line x1="302" y1="361" x2="302" y2="420" stroke="#333" stroke-width="1.5" stroke-dasharray="13 3 2.5 3"/>
<line x1="302" y1="360" x2="302" y2="367" stroke="#333" stroke-width="1.5"/>
<line x1="302" y1="414" x2="302" y2="421" stroke="#333" stroke-width="1.5"/>
<path d="M377.7 399 L375.5 405 L379.9 405 Z" fill="#222"/>
<path d="M377.7 471 L375.5 465 L379.9 465 Z" fill="#222"/>
<line x1="377.7" y1="405" x2="377.7" y2="465" stroke="#333" stroke-width="1.5" stroke-dasharray="13 3 2.5 3"/>
<line x1="377.7" y1="404" x2="377.7" y2="411" stroke="#333" stroke-width="1.5"/>
<line x1="377.7" y1="459" x2="377.7" y2="466" stroke="#333" stroke-width="1.5"/>
<line x1="377.7" y1="405" x2="377.7" y2="465" stroke="#50081a" stroke-width="1.6" stroke-dasharray="13 3 2.5 3" clip-path="url(#pl3)"/>
<path d="M472 344 L469.8 350 L474.2 350 Z" fill="#222"/>
<path d="M472 416 L469.8 410 L474.2 410 Z" fill="#222"/>
<line x1="472" y1="350" x2="472" y2="410" stroke="#333" stroke-width="1.5" stroke-dasharray="13 3 2.5 3"/>
<line x1="472" y1="349" x2="472" y2="356" stroke="#333" stroke-width="1.5"/>
<line x1="472" y1="404" x2="472" y2="411" stroke="#333" stroke-width="1.5"/>
<text x="0" y="0" font-family="Liberation Sans" font-size="11" fill="#333" transform="translate(331.5,574.5) rotate(25)">1.5</text>
<text x="0" y="0" font-family="Liberation Sans" font-size="11" fill="#333" transform="translate(419.5,573.5) rotate(-25)">1.8</text>
<path d="M283 88.3 L346 88.3" fill="none" stroke="#9fdc7a" stroke-opacity="0.8" stroke-width="1.6"/>
<path d="M283 123.4 L301 123.4" fill="none" stroke="#9fdc7a" stroke-opacity="0.8" stroke-width="1.6"/>
<path d="M283 208.3 L432 208.3" fill="none" stroke="#9fdc7a" stroke-opacity="0.8" stroke-width="1.6"/>
<path d="M283 234.5 L389 234.5" fill="none" stroke="#9fdc7a" stroke-opacity="0.8" stroke-width="1.6"/>
<path d="M352 234.5 L389 261" fill="none" stroke="#9fdc7a" stroke-opacity="0.8" stroke-width="1.6"/>
<path d="M283 269.8 L446 269.8" fill="none" stroke="#9fdc7a" stroke-opacity="0.8" stroke-width="1.6"/>
<path d="M283 297.5 L383 297.5" fill="none" stroke="#9fdc7a" stroke-opacity="0.8" stroke-width="1.6"/>
<path d="M283 331.2 L301 331.2" fill="none" stroke="#9fdc7a" stroke-opacity="0.8" stroke-width="1.6"/>
<path d="M283 608.5 L361.3 608.5 L361.3 462" fill="none" stroke="#9fdc7a" stroke-opacity="0.8" stroke-width="1.6"/>
<path d="M283 637.3 L373.4 637.3 L373.4 610" fill="none" stroke="#9fdc7a" stroke-opacity="0.8" stroke-width="1.6"/>
</svg></body></html>
